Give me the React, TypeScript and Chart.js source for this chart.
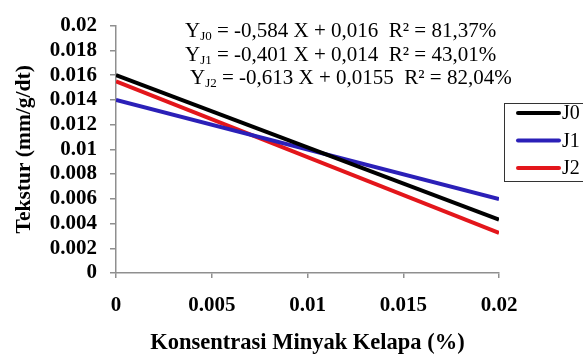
import { useEffect, useRef } from 'react';
import { Chart, registerables } from 'chart.js';

Chart.register(...registerables);

// Coconut oil concentration (%) at the two ends of each fitted line
const concentration = [0, 0.02];
const seriesNames = ['J0', 'J1', 'J2'];
const textureJ0 = [0.016, 0.00432];
const textureJ1 = [0.014, 0.00598];
const textureJ2 = [0.0155, 0.00324];
const seriesColors = ['#000000', '#2B20B8', '#E3161B'];

// Regression equations printed above the lines
const equationSlopes = ['-0,584', '-0,401', '-0,613'];
const equationIntercepts = ['0,016', '0,014', '0,0155'];
const equationR2 = ['81,37%', '43,01%', '82,04%'];

const xTickValues = [0, 0.005, 0.01, 0.015, 0.02];
const xTickLabels = ['0', '0.005', '0.01', '0.015', '0.02'];
const yTickValues = [0, 0.002, 0.004, 0.006, 0.008, 0.01, 0.012, 0.014, 0.016, 0.018, 0.02];
const yTickLabels = ['0', '0.002', '0.004', '0.006', '0.008', '0.01', '0.012', '0.014', '0.016', '0.018', '0.02'];

const SERIF = '"Liberation Serif", "Times New Roman", serif';
const AXIS_GREY = '#8f8f8f';

const seriesValues = [textureJ0, textureJ1, textureJ2];

const equationsPlugin = {
  id: 'regressionEquations',
  afterDraw(chart: any) {
    const ctx = chart.ctx as CanvasRenderingContext2D;
    ctx.save();
    ctx.fillStyle = '#000';
    ctx.textBaseline = 'alphabetic';
    const starts = [185, 185, 190];
    seriesNames.forEach((name, i) => {
      const base = 37 + i * 23.5;
      let x = starts[i];
      ctx.font = `21px ${SERIF}`;
      ctx.fillText('Y', x, base);
      x += ctx.measureText('Y').width;
      ctx.font = `13px ${SERIF}`;
      ctx.fillText(name, x, base + 3);
      x += ctx.measureText(name).width;
      ctx.font = `21px ${SERIF}`;
      ctx.fillText(
        ` = ${equationSlopes[i]} X + ${equationIntercepts[i]}  R\u00B2 = ${equationR2[i]}`,
        x,
        base
      );
    });
    ctx.restore();
  },
};

const sideLegendPlugin = {
  id: 'sideLegend',
  afterDraw(chart: any) {
    const ctx = chart.ctx as CanvasRenderingContext2D;
    ctx.save();
    ctx.strokeStyle = '#333';
    ctx.lineWidth = 1;
    ctx.strokeRect(504.5, 103.5, 100, 78);
    ctx.font = `20px ${SERIF}`;
    ctx.textBaseline = 'middle';
    ctx.textAlign = 'left';
    chart.data.datasets.forEach((ds: any, i: number) => {
      const y = 113 + i * 27.5;
      ctx.strokeStyle = ds.borderColor;
      ctx.lineWidth = 4;
      ctx.lineCap = 'round';
      ctx.beginPath();
      ctx.moveTo(518, y);
      ctx.lineTo(559, y);
      ctx.stroke();
      ctx.fillStyle = '#000';
      ctx.fillText(ds.label, 562, y + 1);
    });
    ctx.restore();
  },
};

export default function App() {
  const canvasRef = useRef<HTMLCanvasElement | null>(null);

  useEffect(() => {
    if (!canvasRef.current) return;
    const chart = new Chart(canvasRef.current, {
      type: 'line',
      data: {
        datasets: seriesNames.map((name, i) => ({
          label: name,
          data: concentration.map((c, k) => ({ x: c, y: seriesValues[i][k] })),
          borderColor: seriesColors[i],
          backgroundColor: seriesColors[i],
          borderWidth: 4,
          pointRadius: 0,
          tension: 0,
          fill: false,
        })),
      },
      options: {
        responsive: false,
        animation: false,
        events: [],
        layout: { padding: { left: 0, right: 84, top: 19, bottom: 0 } },
        plugins: {
          legend: { display: false },
          tooltip: { enabled: false },
          title: { display: false },
        },
        scales: {
          x: {
            type: 'linear',
            min: 0,
            max: 0.02,
            afterFit: (s: any) => {
              s.height = 84;
            },
            afterBuildTicks: (s: any) => {
              s.ticks = xTickValues.map((v) => ({ value: v }));
            },
            ticks: {
              autoSkip: false,
              maxRotation: 0,
              padding: 15,
              color: '#000',
              font: { family: SERIF, size: 21, weight: 'bold' },
              callback: (_v: any, idx: number) => xTickLabels[idx],
            },
            grid: {
              drawOnChartArea: false,
              drawTicks: true,
              tickLength: 5,
              color: AXIS_GREY,
              lineWidth: 1.5,
            },
            border: { display: true, color: AXIS_GREY, width: 1.5 },
            title: {
              display: true,
              text: 'Konsentrasi Minyak Kelapa (%)',
              color: '#000',
              font: { family: SERIF, size: 22.5, weight: 'bold' },
              padding: { top: 0, bottom: 0 },
            },
          },
          y: {
            type: 'linear',
            min: 0,
            max: 0.02,
            afterFit: (s: any) => {
              s.width = 116;
            },
            afterBuildTicks: (s: any) => {
              s.ticks = yTickValues.map((v) => ({ value: v }));
            },
            ticks: {
              autoSkip: false,
              padding: 13,
              color: '#000',
              font: { family: SERIF, size: 21, weight: 'bold' },
              callback: (_v: any, idx: number) => yTickLabels[idx],
            },
            grid: {
              drawOnChartArea: false,
              drawTicks: true,
              tickLength: 6,
              color: AXIS_GREY,
              lineWidth: 1.5,
            },
            border: { display: true, color: AXIS_GREY, width: 1.5 },
            title: {
              display: true,
              text: 'Tekstur (mm/g/dt)',
              color: '#000',
              font: { family: SERIF, size: 21.5, weight: 'bold' },
              padding: { top: 12, bottom: 0 },
            },
          },
        },
      },
      plugins: [equationsPlugin, sideLegendPlugin],
    });
    return () => chart.destroy();
  }, []);

  return (
    <div style={{ position: 'absolute', left: 0, top: 0, width: 583, height: 357, background: '#fff' }}>
      <canvas ref={canvasRef} width={583} height={357} style={{ display: 'block' }} />
    </div>
  );
}
